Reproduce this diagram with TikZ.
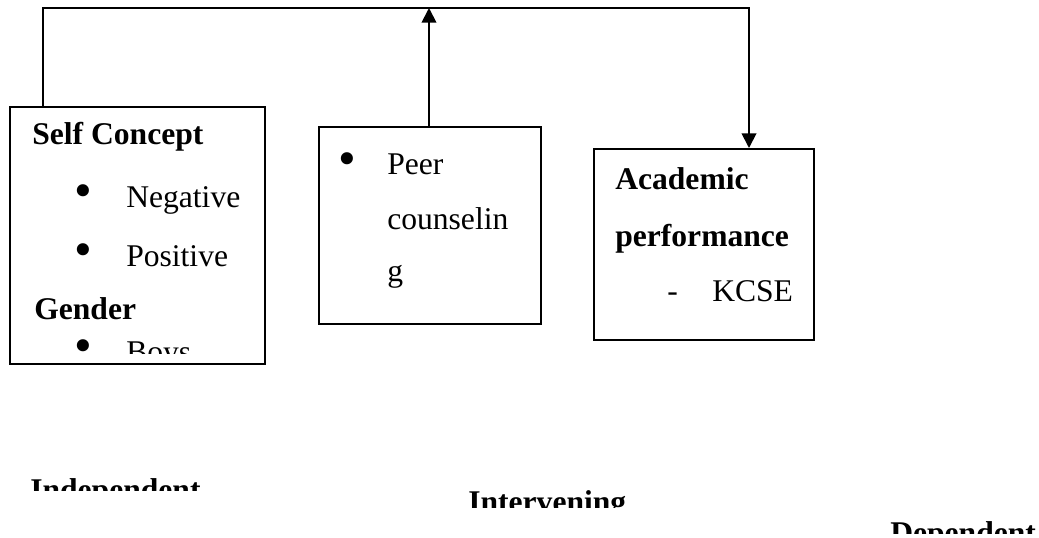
\documentclass[tikz,border=0pt]{standalone}
\usepackage{fontspec}
\setmainfont{Liberation Serif}
\usetikzlibrary{arrows.meta}
\begin{document}
\begin{tikzpicture}[x=0.75pt,y=-0.75pt,
  box/.style={draw, line width=1.2pt, inner sep=0pt, anchor=north west},
  txt/.style={inner sep=0pt, anchor=base west, font=\fontsize{23.7}{28}\selectfont},
  btxt/.style={txt, font=\fontsize{23.7}{28}\selectfont\bfseries},
  bul/.style={inner sep=0pt, anchor=base, font=\fontsize{38}{40}\selectfont},
  conn/.style={line width=1.4pt},
  tip/.style={-{Triangle[width=11pt,length=11pt]}}]
\useasboundingbox (0,0) rectangle (1039,537);
% boxes
\node[box, minimum width=191.25pt, minimum height=192.75pt] (left) at (9,106) {};
\node[box, minimum width=166.5pt, minimum height=147.75pt] (mid) at (318,126) {};
\node[box, minimum width=165pt, minimum height=143.25pt] (right) at (593,148) {};
% connectors
\coordinate (tl) at (43,8);
\coordinate (tm) at (429,8);
\coordinate (tr) at (749,8);
\draw[conn, tip] (left.north -| tl) -- (tl) -- (tr) -- (tr |- right.north);
\draw[conn, tip] (mid.north -| tm) -- (tm);
% left box text
\begin{scope}
\clip (9,106) rectangle (264,353);
\node[btxt] (sc) at (32,144) {Self Concept};
\node[bul] (b1) at (83,207) {•};
\node[txt] (neg) at (126,207) {Negative};
\node[bul] (b2) at (83,266) {•};
\node[txt] (pos) at (126,266) {Positive};
\node[btxt] (gen) at (34,319) {Gender};
\node[bul] (b3) at (83,362) {•};
\node[txt] (boys) at (126,362) {Boys};
\end{scope}
% middle box text
\node[bul] (b4) at (347,175) {•};
\node[txt] (peer) at (387,174) {Peer};
\node[txt] (couns) at (387,229) {counselin};
\node[txt] (g) at (387,281) {g};
% right box text
\node[btxt] (acad) at (615,189) {Academic};
\node[btxt] (perf) at (615,246) {performance};
\node[txt] (dash) at (667,301) {-};
\node[txt] (kcse) at (712,301) {KCSE};
% bottom labels (clipped as in the reference)
\begin{scope}
\clip (0,0) rectangle (1039,490);
\node[btxt] (ind) at (30,500) {Independent};
\end{scope}
\begin{scope}
\clip (0,0) rectangle (1039,507);
\node[btxt] (int) at (468,512) {Intervening};
\end{scope}
\begin{scope}
\clip (0,0) rectangle (1039,533);
\node[btxt] (dep) at (890,543) {Dependent};
\end{scope}
\end{tikzpicture}
\end{document}
